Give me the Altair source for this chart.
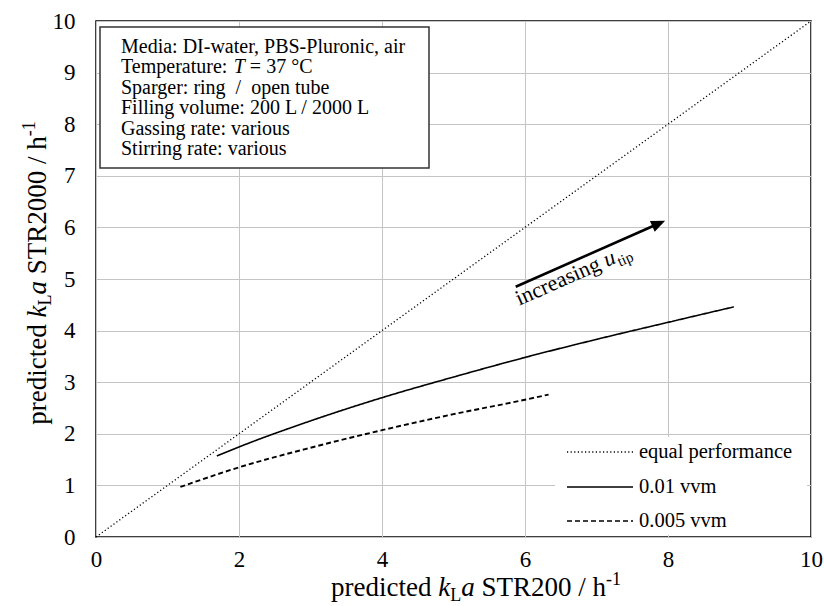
import math
import altair as alt
import pandas as pd

# ---------------- data ----------------
series_names = ["equal performance", "0.01 vvm", "0.005 vvm"]
equal_x = [0, 10]
equal_y = [0, 10]
vvm001_x = [1.69, 2.0, 3.0, 4.0, 5.0, 6.0, 7.0, 8.0, 8.92]
vvm001_y = [1.57, 1.745, 2.25, 2.70, 3.10, 3.48, 3.83, 4.16, 4.46]
vvm0005_x = [1.18, 2.0, 3.0, 4.0, 5.0, 6.0, 6.33]
vvm0005_y = [0.97, 1.35, 1.73, 2.07, 2.38, 2.66, 2.76]
arrow_x = [5.87, 7.96]
arrow_y = [4.85, 6.13]
label_anchor_x = [5.92]
label_anchor_y = [4.48]
x_ticks = [0, 2, 4, 6, 8, 10]
y_ticks = [0, 1, 2, 3, 4, 5, 6, 7, 8, 9, 10]
NB = "\u00a0"
info_lines = [
    "Media: DI-water, PBS-Pluronic, air",
    "Temperature:",
    "Sparger: ring " + NB + "/ " + NB + "open tube",
    "Filling volume: 200 L / 2000 L",
    "Gassing rate: various",
    "Stirring rate: various",
]

FONT = "Liberation Serif"
W, H = 715, 516
PXX, PXY = W / 10, H / 10

# Times (Liberation Serif) advance widths per 1000 em
REG = {' ': 250, NB: 250, 'p': 500, 'r': 333, 'e': 444, 'd': 500, 'i': 278, 'c': 444, 't': 278,
       'S': 556, 'T': 611, 'R': 667, '/': 278, 'h': 500, '-': 333, 'L': 611, 'a': 444,
       'u': 500, 'n': 500, 'g': 500, 's': 389, 'k': 500, 'l': 278, 'm': 778, ':': 278,
       '=': 564, '°': 400, 'C': 667, '.': 250}
ITA = {'k': 444, 'a': 500, 'u': 500, 'T': 556}


def tw(s, size, italic=False):
    table = ITA if italic else REG
    return sum(table.get(ch, REG.get(ch, 500)) for ch in s) * size / 1000.0


# ---------------- main lines ----------------
rows = []
for name, xs, ys in [(series_names[0], equal_x, equal_y),
                     (series_names[1], vvm001_x, vvm001_y),
                     (series_names[2], vvm0005_x, vvm0005_y)]:
    for i, (xv, yv) in enumerate(zip(xs, ys)):
        rows.append({"series": name, "x": xv, "y": yv, "order": i})
df = pd.DataFrame(rows)

xsc = alt.Scale(domain=[0, 10], nice=False, zero=False)
ysc = alt.Scale(domain=[0, 10], nice=False, zero=False)
X = alt.X("x:Q", scale=xsc, axis=alt.Axis(values=x_ticks, title=None, labelPadding=11))
Y = alt.Y("y:Q", scale=ysc, axis=alt.Axis(values=y_ticks, title=None, labelPadding=21))

lines = alt.Chart(df).mark_line(color="black", interpolate="monotone").encode(
    x=X, y=Y, order="order:Q",
    strokeDash=alt.StrokeDash("series:N", legend=None,
                              scale=alt.Scale(domain=series_names, range=[[1.2, 2.4], [1, 0], [5, 3]])),
    strokeWidth=alt.StrokeWidth("series:N", legend=None,
                                scale=alt.Scale(domain=series_names, range=[1.3, 1.9, 1.8])),
)

one = pd.DataFrame({"k": [0]})

# ---------------- arrow ----------------
dxp = (arrow_x[1] - arrow_x[0]) * PXX
dyp = (arrow_y[1] - arrow_y[0]) * PXY
ang = math.degrees(math.atan2(dyp, dxp))
shaft_back = 10.0
df_arrow = pd.DataFrame({
    "x": [arrow_x[0]], "y": [arrow_y[0]],
    "x2": [arrow_x[1] - shaft_back * math.cos(math.radians(ang)) / PXX],
    "y2": [arrow_y[1] - shaft_back * math.sin(math.radians(ang)) / PXY],
})
shaft = alt.Chart(df_arrow).mark_rule(color="black", strokeWidth=2.6).encode(
    x=X, y=Y, x2="x2:Q", y2="y2:Q")
head = alt.Chart(pd.DataFrame({"x": [arrow_x[1]], "y": [arrow_y[1]]})).mark_point(
    shape="M0,0L-1,-0.42L-1,0.42Z", filled=True, size=784, angle=360 - ang,
    color="black", opacity=1).encode(x=X, y=Y)

# arrow label: "increasing u_tip"
lab_df = pd.DataFrame({"x": label_anchor_x, "y": label_anchor_y})
rot = 360 - ang
s1 = tw("increasing ", 22)
s2 = s1 + tw("u", 22, True) + 1
lab_layers = [
    alt.Chart(lab_df).mark_text(text="increasing", font=FONT, fontSize=22, align="left",
                                baseline="alphabetic", angle=rot, color="black").encode(x=X, y=Y),
    alt.Chart(lab_df).mark_text(text="u", font=FONT, fontSize=22, fontStyle="italic", align="left",
                                baseline="alphabetic", angle=rot, dx=s1, color="black").encode(x=X, y=Y),
    alt.Chart(lab_df).mark_text(text="tip", font=FONT, fontSize=15, align="left",
                                baseline="alphabetic", angle=rot, dx=s2, dy=5, color="black").encode(x=X, y=Y),
]

# ---------------- info box ----------------
box = alt.Chart(one).mark_rect(fill="white", stroke="#333333", strokeWidth=1.5).encode(
    x=alt.value(4), x2=alt.value(333), y=alt.value(6), y2=alt.value(147))
LH = 20.4
info_text = alt.Chart(one).mark_text(text=info_lines, font=FONT, fontSize=20, align="left",
                                     baseline="alphabetic", lineHeight=LH, color="black").encode(
    x=alt.value(25), y=alt.value(32))
wt = tw("Temperature: ", 20)
info_T = alt.Chart(one).mark_text(text="T", font=FONT, fontSize=20, fontStyle="italic", align="left",
                                  baseline="alphabetic", color="black").encode(
    x=alt.value(25 + wt), y=alt.value(32 + LH))
info_rest = alt.Chart(one).mark_text(text="= 37 °C", font=FONT, fontSize=20, align="left",
                                     baseline="alphabetic", color="black").encode(
    x=alt.value(25 + wt + tw("T", 20, True) + tw(" ", 20)), y=alt.value(32 + LH))

# ---------------- legend ----------------
leg_bg = alt.Chart(one).mark_rect(fill="white", stroke=None).encode(
    x=alt.value(459), x2=alt.value(711), y=alt.value(416), y2=alt.value(514))
leg_rows = [431, 466, 500]
leg_dash = [[1.2, 2.4], [1, 0], [5, 3]]
leg_layers = [leg_bg]
for name, yy, dash in zip(series_names, leg_rows, leg_dash):
    leg_layers.append(alt.Chart(one).mark_rule(color="black", strokeWidth=1.6, strokeDash=dash).encode(
        x=alt.value(471), x2=alt.value(537), y=alt.value(yy)))
    leg_layers.append(alt.Chart(one).mark_text(text=name, font=FONT, fontSize=20.5, align="left",
                                               baseline="middle", color="black").encode(
        x=alt.value(543), y=alt.value(yy)))


# ---------------- axis titles (composed) ----------------
def title_pieces(main_text, big, small, x0, y0, angle, horizontal):
    sp = tw(" ", big)
    # (text, size, italic, baseline shift, gap before)
    parts = [("predicted", big, False, 0, 0), ("k", big, True, 0, sp), ("L", small, False, 5, 0),
             ("a", big, True, 0, 0), (main_text, big, False, 0, sp), ("-1", small, False, -11, 0)]
    total = sum(tw(t, s, it) + g for t, s, it, _, g in parts)
    layers = []
    pos = 0.0
    for t, s, it, d, g in parts:
        pos += g
        kw = dict(text=t, font=FONT, fontSize=s, align="left", baseline="alphabetic",
                  color="black", dx=pos, dy=d)
        if it:
            kw["fontStyle"] = "italic"
        if angle:
            kw["angle"] = angle
        if horizontal:
            ex = dict(x=alt.value(x0 - total / 2), y=alt.value(y0))
        else:
            ex = dict(x=alt.value(x0), y=alt.value(y0 + total / 2))
        layers.append(alt.Chart(one).mark_text(**kw).encode(**ex))
        pos += tw(t, s, it)
    return layers


xt = title_pieces("STR200 / h", 27, 18, 380, 575, None, True)
yt = title_pieces("STR2000 / h", 27, 18, -50, 252, 270, False)

chart = alt.layer(
    lines, box, info_text, info_T, info_rest, *leg_layers, shaft, head, *lab_layers, *xt, *yt
).properties(
    width=W, height=H,
    padding={"left": 96, "top": 21, "right": 13, "bottom": 69},
    autosize=alt.AutoSizeParams(type="none"),
    background="white",
).configure_view(
    stroke="black", strokeWidth=1.5
).configure_axis(
    labelFont=FONT, labelFontSize=23, labelColor="black", grid=True, gridColor="#c4c4c4",
    gridWidth=1, domain=False, ticks=False, labelFlush=False,
)

chart.save("out.html", embed_options={"renderer": "svg", "actions": False})
